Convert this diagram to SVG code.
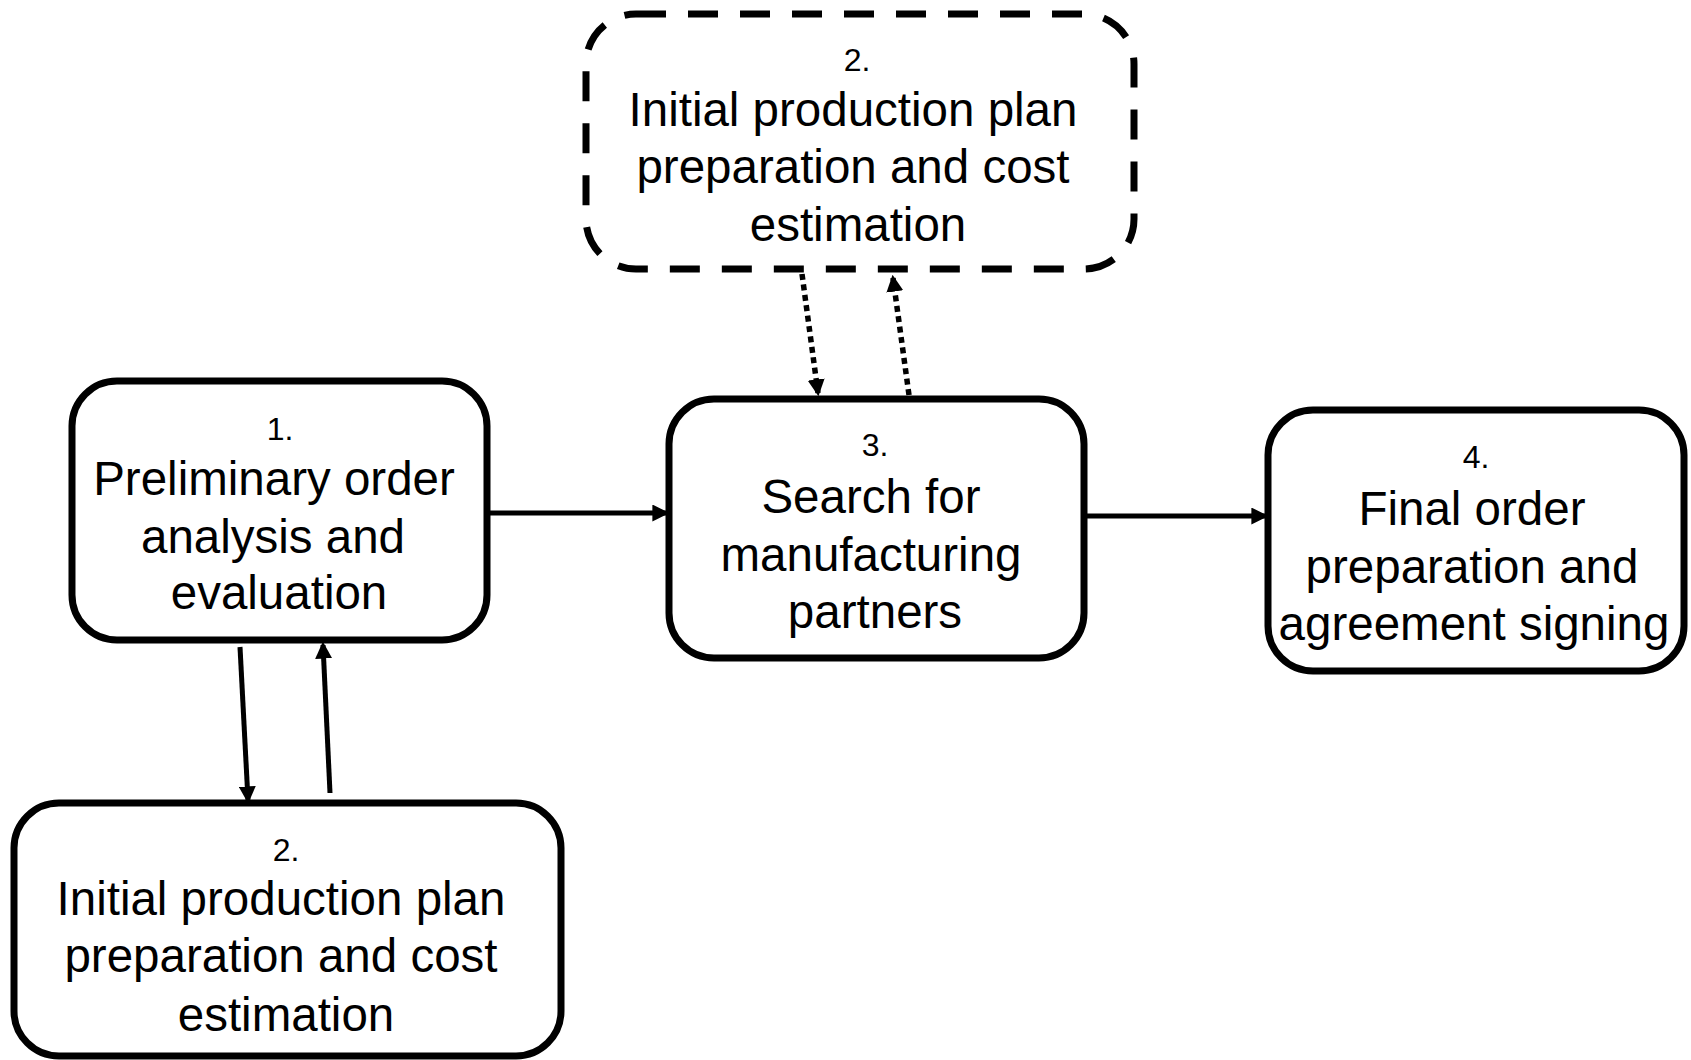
<svg xmlns="http://www.w3.org/2000/svg" width="1691" height="1060" viewBox="0 0 1691 1060">
<style>
.box{fill:#fff;stroke:#000;stroke-width:7}
.dbox{fill:#fff;stroke:#000;stroke-width:7;stroke-dasharray:30 22}
.t{font-family:"Liberation Sans",Arial,sans-serif;font-size:47.5px;fill:#000;text-anchor:middle}
.n{font-family:"Liberation Sans",Arial,sans-serif;font-size:32px;fill:#000;text-anchor:middle}
.c{stroke:#000;stroke-width:5;fill:none}
.d{stroke:#000;stroke-width:5.5;fill:none;stroke-dasharray:6 4.5}
</style>
<defs>
<marker id="ah" viewBox="0 0 10 10" refX="8" refY="5" markerWidth="17" markerHeight="17" markerUnits="userSpaceOnUse" orient="auto"><path d="M0,0 L10,5 L0,10 z" fill="#000"/></marker>
</defs>
<g id="connectors">
<line class="c" x1="487" y1="513" x2="666" y2="513" marker-end="url(#ah)"/>
<line class="c" x1="1084" y1="516" x2="1265" y2="516" marker-end="url(#ah)"/>
<line class="c" x1="240" y1="647" x2="248" y2="800" marker-end="url(#ah)"/>
<line class="c" x1="330" y1="793" x2="323" y2="645" marker-end="url(#ah)"/>
<line class="d" x1="802" y1="274" x2="818" y2="393" marker-end="url(#ah)"/>
<line class="d" x1="909" y1="395" x2="893" y2="278" marker-end="url(#ah)"/>
</g>
<g id="node-2-top">
<rect class="dbox" x="586" y="14" width="548" height="255" rx="50"/>
<text class="n" x="857" y="71">2.</text>
<text class="t" x="853" y="126">Initial production plan</text>
<text class="t" x="853" y="183">preparation and cost</text>
<text class="t" x="858" y="241">estimation</text>
</g>
<g id="node-1">
<rect class="box" x="72" y="381" width="415" height="259" rx="45"/>
<text class="n" x="280" y="440">1.</text>
<text class="t" x="274" y="495">Preliminary order</text>
<text class="t" x="273" y="553">analysis and</text>
<text class="t" x="279" y="609">evaluation</text>
</g>
<g id="node-3">
<rect class="box" x="669" y="399" width="415" height="259" rx="45"/>
<text class="n" x="875" y="456">3.</text>
<text class="t" x="871" y="513">Search for</text>
<text class="t" x="871" y="571">manufacturing</text>
<text class="t" x="875" y="628">partners</text>
</g>
<g id="node-4">
<rect class="box" x="1268" y="410" width="416" height="261" rx="45"/>
<text class="n" x="1476" y="468">4.</text>
<text class="t" x="1472" y="525">Final order</text>
<text class="t" x="1472" y="583">preparation and</text>
<text class="t" x="1474" y="640">agreement signing</text>
</g>
<g id="node-2-bottom">
<rect class="box" x="14" y="803" width="547" height="253" rx="45"/>
<text class="n" x="286" y="861">2.</text>
<text class="t" x="281" y="915">Initial production plan</text>
<text class="t" x="281" y="972">preparation and cost</text>
<text class="t" x="286" y="1031">estimation</text>
</g>
</svg>
